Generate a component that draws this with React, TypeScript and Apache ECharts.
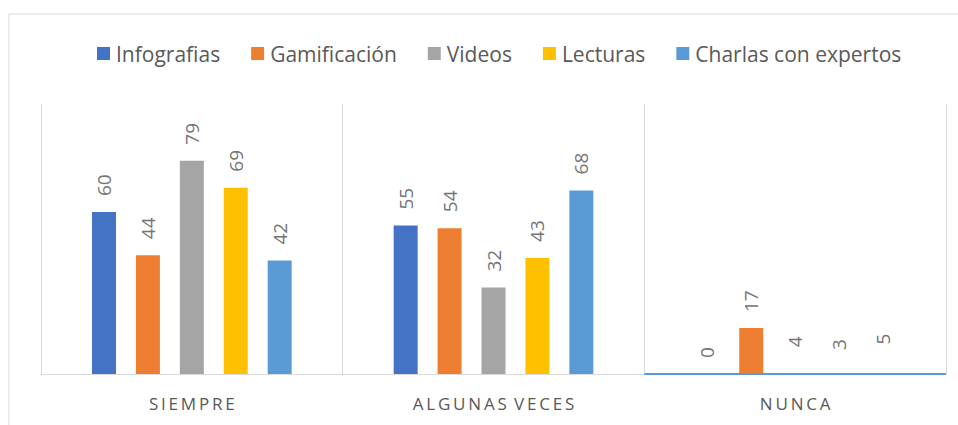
import React, { useEffect, useRef } from "react";
import * as echarts from "echarts";

const categories = ["SIEMPRE", "ALGUNAS VECES", "NUNCA"];
const seriesNames = ["Infografias", "Gamificación", "Videos", "Lecturas", "Charlas con expertos"];
const infografias = [60, 55, 0];
const gamificacion = [44, 54, 17];
const videos = [79, 32, 4];
const lecturas = [69, 43, 3];
const charlas = [42, 68, 5];
const colors = ["#4472C4", "#ED7D31", "#A5A5A5", "#FFC000", "#5B9BD5"];
// bars that the reference leaves undrawn (label only)
const hiddenBars: Record<string, number[]> = {
  Videos: [2],
  Lecturas: [2],
  "Charlas con expertos": [2],
};

const FONT = "'Open Sans', 'Liberation Sans', sans-serif";

function spaced(s: string) {
  return s
    .split(" ")
    .map((w) => w.split("").join("\u2009"))
    .join(" \u2009");
}

export default function App() {
  const ref = useRef<HTMLDivElement>(null);
  useEffect(() => {
    if (!ref.current) return;
    const chart = echarts.init(ref.current, null, { renderer: "svg" });
    const all = [infografias, gamificacion, videos, lecturas, charlas];
    const series = seriesNames.map((name, i) => ({
      name,
      type: "bar",
      barWidth: 24,
      barGap: "83%",
      itemStyle: { color: colors[i] },
      data: all[i].map((v, j) =>
        (hiddenBars[name] || []).includes(j)
          ? { value: v, itemStyle: { color: "rgba(0,0,0,0)" } }
          : v
      ),
      label: {
        show: true,
        position: "top",
        rotate: 90,
        align: "left",
        verticalAlign: "middle",
        distance: 16,
        color: "#757575",
        fontSize: 19,
        fontFamily: FONT,
      },
    }));
    const border = {
      type: "rect",
      shape: { x: 9, y: 14, width: 1000, height: 500 },
      style: { fill: "none", stroke: "#D9D9D9", lineWidth: 1 },
      silent: true,
    };
    chart.setOption({
      animation: false,
      textStyle: { fontFamily: FONT },
      legend: {
        top: 43,
        left: 97,
        padding: 0,
        itemWidth: 13,
        itemHeight: 13,
        itemGap: 31,
        icon: "rect",
        textStyle: { color: "#595959", fontSize: 21, fontFamily: FONT, padding: [0, 0, 0, 1] },
        data: seriesNames,
      },
      grid: { left: 41, right: 12, top: 104, bottom: 51, containLabel: false },
      xAxis: {
        type: "category",
        data: categories,
        axisLine: { show: true, lineStyle: { color: "#D9D9D9", width: 1 } },
        axisTick: { show: false },
        splitLine: { show: true, lineStyle: { color: "#D9D9D9", width: 1 } },
        axisLabel: {
          color: "#595959",
          fontSize: 17,
          margin: 21,
          fontFamily: FONT,
          formatter: (v: string) => spaced(v),
        },
      },
      yAxis: { type: "value", min: 0, max: 100, show: false, splitLine: { show: false } },
      series,
      graphic: [border],
    });
    // blue baseline under the last category
    const p0 = chart.convertToPixel({ xAxisIndex: 0, yAxisIndex: 0 }, [2, 0]) as number[];
    const p1 = chart.convertToPixel({ xAxisIndex: 0, yAxisIndex: 0 }, [1, 0]) as number[];
    const half = (p0[0] - p1[0]) / 2;
    chart.setOption({
      graphic: [
        border,
        {
          type: "line",
          shape: { x1: p0[0] - half, y1: p0[1], x2: p0[0] + half, y2: p0[1] },
          style: { stroke: "#5B9BD5", lineWidth: 2 },
          silent: true,
          z: 10,
        },
      ],
    });
    return () => chart.dispose();
  }, []);
  return (
    <div
      ref={ref}
      style={{ position: "fixed", left: 0, top: 0, width: 958, height: 425, background: "#fff" }}
    />
  );
}
